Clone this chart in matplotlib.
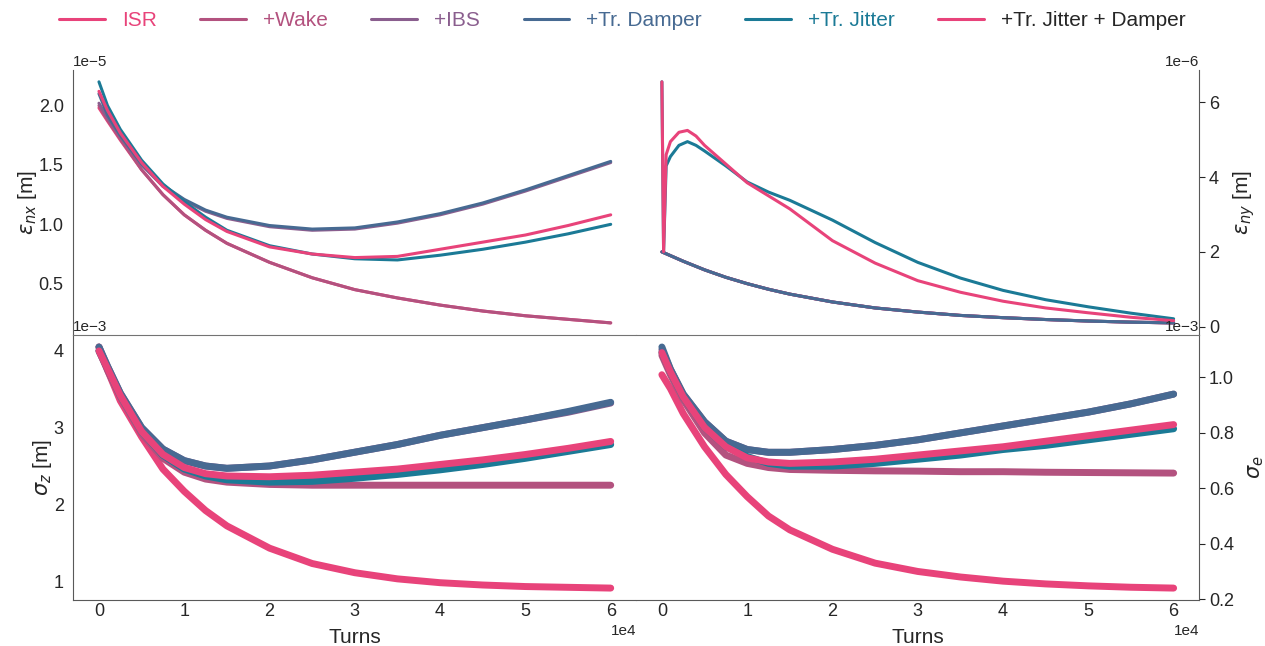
import matplotlib
matplotlib.use("Agg")
import matplotlib.pyplot as plt
import seaborn as sns
import numpy as np

sns.set_style("white")
plt.rcParams['font.family'] = ['Liberation Sans', 'DejaVu Sans']
plt.rcParams['axes.edgecolor'] = '0.35'

labels = ["ISR", "+Wake", "+IBS", "+Tr. Damper", "+Tr. Jitter", "+Tr. Jitter + Damper"]
colors = ["#e8437a", "#b3527f", "#8a5e8e", "#476a92", "#1b7a96", "#e8437a"]
label_colors = colors[:5] + ["0.15"]

# turn grid used by most series
turns = [0, 1000, 2500, 5000, 7500, 10000, 12500, 15000, 20000, 25000,
         30000, 35000, 40000, 45000, 50000, 55000, 60000]
# finer start for the jitter runs in y (big kick at injection)
turns_jit = [0, 200, 500, 1000, 2000, 3000, 4000, 5000, 7500, 10000, 12500,
             15000, 20000, 25000, 30000, 35000, 40000, 45000, 50000, 55000, 60000]

# normalised horizontal emittance [1e-5 m]
emit_x = [
    [1.98, 1.87, 1.71, 1.46, 1.25, 1.08, 0.95, 0.84, 0.68, 0.55, 0.45, 0.38, 0.32, 0.27, 0.23, 0.20, 0.17],
    [2.00, 1.88, 1.72, 1.46, 1.25, 1.08, 0.95, 0.84, 0.68, 0.55, 0.45, 0.38, 0.32, 0.27, 0.23, 0.20, 0.17],
    [2.02, 1.90, 1.74, 1.50, 1.32, 1.20, 1.11, 1.05, 0.98, 0.95, 0.96, 1.01, 1.08, 1.17, 1.28, 1.40, 1.52],
    [2.10, 1.92, 1.75, 1.51, 1.33, 1.21, 1.12, 1.06, 0.99, 0.96, 0.97, 1.02, 1.09, 1.18, 1.29, 1.41, 1.53],
    [2.20, 2.00, 1.80, 1.54, 1.34, 1.19, 1.06, 0.95, 0.82, 0.75, 0.71, 0.70, 0.74, 0.79, 0.85, 0.92, 1.00],
    [2.12, 1.96, 1.77, 1.52, 1.32, 1.17, 1.04, 0.94, 0.81, 0.75, 0.72, 0.73, 0.79, 0.85, 0.91, 0.99, 1.08],
]

# normalised vertical emittance [1e-6 m]
emit_y = [
    [2.00, 1.90, 1.75, 1.52, 1.32, 1.15, 1.00, 0.87, 0.66, 0.50, 0.39, 0.30, 0.24, 0.19, 0.15, 0.12, 0.10],
    [2.00, 1.90, 1.75, 1.52, 1.32, 1.15, 1.00, 0.87, 0.66, 0.50, 0.39, 0.30, 0.24, 0.19, 0.15, 0.12, 0.10],
    [2.00, 1.90, 1.75, 1.52, 1.32, 1.15, 1.00, 0.87, 0.66, 0.50, 0.39, 0.30, 0.24, 0.19, 0.15, 0.12, 0.10],
    [2.00, 1.90, 1.75, 1.52, 1.32, 1.15, 1.00, 0.87, 0.66, 0.50, 0.39, 0.30, 0.24, 0.19, 0.15, 0.12, 0.10],
]
emit_y_jit = [
    [6.55, 2.00, 4.30, 4.55, 4.85, 4.95, 4.85, 4.70, 4.30, 3.87, 3.60, 3.38, 2.85, 2.25, 1.72, 1.30, 0.97, 0.72, 0.53, 0.36, 0.21],
    [6.55, 2.00, 4.60, 4.95, 5.20, 5.25, 5.10, 4.85, 4.35, 3.85, 3.50, 3.15, 2.30, 1.70, 1.23, 0.92, 0.68, 0.50, 0.37, 0.25, 0.16],
]

# bunch length [1e-3 m]
sigma_z = [
    [4.05, 3.75, 3.35, 2.88, 2.46, 2.17, 1.92, 1.72, 1.43, 1.23, 1.11, 1.03, 0.98, 0.95, 0.93, 0.92, 0.91],
    [4.00, 3.75, 3.40, 2.92, 2.60, 2.42, 2.33, 2.29, 2.26, 2.25, 2.25, 2.25, 2.25, 2.25, 2.25, 2.25, 2.25],
    [4.05, 3.80, 3.45, 3.00, 2.72, 2.57, 2.50, 2.47, 2.50, 2.58, 2.68, 2.78, 2.90, 3.00, 3.10, 3.20, 3.32],
    [4.05, 3.80, 3.45, 3.00, 2.72, 2.57, 2.50, 2.47, 2.50, 2.58, 2.68, 2.78, 2.90, 3.00, 3.10, 3.21, 3.33],
    [4.00, 3.77, 3.42, 2.95, 2.64, 2.46, 2.37, 2.32, 2.29, 2.30, 2.34, 2.39, 2.45, 2.52, 2.60, 2.69, 2.78],
    [4.00, 3.77, 3.42, 2.95, 2.65, 2.48, 2.40, 2.37, 2.36, 2.38, 2.42, 2.46, 2.52, 2.58, 2.65, 2.73, 2.82],
]

# energy spread [1e-3]
sigma_e = [
    [1.01, 0.96, 0.87, 0.75, 0.65, 0.57, 0.50, 0.45, 0.38, 0.33, 0.30, 0.28, 0.265, 0.255, 0.248, 0.243, 0.24],
    [1.08, 1.01, 0.92, 0.80, 0.72, 0.69, 0.675, 0.668, 0.665, 0.663, 0.662, 0.660, 0.660, 0.658, 0.657, 0.656, 0.655],
    [1.10, 1.03, 0.94, 0.84, 0.77, 0.74, 0.73, 0.73, 0.74, 0.755, 0.775, 0.80, 0.825, 0.85, 0.875, 0.905, 0.94],
    [1.11, 1.03, 0.94, 0.84, 0.77, 0.74, 0.73, 0.73, 0.74, 0.755, 0.775, 0.80, 0.825, 0.85, 0.875, 0.905, 0.94],
    [1.09, 1.02, 0.93, 0.82, 0.75, 0.715, 0.69, 0.68, 0.68, 0.69, 0.705, 0.72, 0.74, 0.755, 0.775, 0.795, 0.815],
    [1.09, 1.02, 0.93, 0.82, 0.75, 0.71, 0.695, 0.69, 0.695, 0.705, 0.72, 0.735, 0.75, 0.77, 0.79, 0.81, 0.83],
]


def main():

    fig, axes = plt.subplots(2, 2, sharex=True, figsize=(12.65, 6.46), dpi=100)
    fig.subplots_adjust(left=0.058, right=0.948, top=0.892, bottom=0.071,
                        wspace=0, hspace=0)

    ax_ex, ax_ey = axes[0]
    ax_sz, ax_se = axes[1]

    t = np.array(turns)
    lines = []
    for i in range(6):
        l, = ax_ex.plot(t, np.array(emit_x[i]) * 1e-5, color=colors[i], lw=2.2)
        lines.append(l)
        ax_sz.plot(t, np.array(sigma_z[i]) * 1e-3, color=colors[i], lw=5)
        ax_se.plot(t, np.array(sigma_e[i]) * 1e-3, color=colors[i], lw=5)

    for i in range(4):
        ax_ey.plot(t, np.array(emit_y[i]) * 1e-6, color=colors[i], lw=2.2)
    for i in range(2):
        ax_ey.plot(turns_jit, np.array(emit_y_jit[i]) * 1e-6, color=colors[4 + i], lw=2.2)

    ax_ex.set_ylabel(r'$\epsilon_{nx}$ [m]', fontsize=15, labelpad=0)
    ax_sz.set_ylabel(r'$\sigma_z$ [m]', fontsize=15, labelpad=0)
    ax_ey.set_ylabel(r'$\epsilon_{ny}$ [m]', fontsize=15, labelpad=9)
    ax_se.set_ylabel(r'$\sigma_e$', fontsize=15, labelpad=9)

    for ax in (ax_sz, ax_se):
        ax.set_xlabel('Turns', fontsize=15, labelpad=6)

    for ax in (ax_ey, ax_se):
        ax.yaxis.tick_right()
        ax.yaxis.set_label_position('right')
        ax.spines['left'].set_visible(False)
        ax.spines['right'].set_visible(True)
    for ax in (ax_ex, ax_sz):
        ax.spines['right'].set_visible(False)
    for ax in axes.flat:
        ax.ticklabel_format(style='sci', axis='both', scilimits=(0, 0))
        ax.tick_params(axis='y', labelsize=13, length=4, pad=3, colors='0.15')
        ax.tick_params(axis='x', labelsize=13, length=0, pad=2, colors='0.15')
        ax.yaxis.get_offset_text().set_fontsize(11)
        ax.xaxis.get_offset_text().set_fontsize(11)
    # the two rows are split by a single line
    for ax in (ax_ex, ax_ey):
        ax.spines['top'].set_visible(False)
        ax.spines['bottom'].set_visible(False)
    for ax in (ax_sz, ax_se):
        ax.spines['top'].set_visible(True)
        ax.spines['top'].set_color('0.45')

    ax_ey.set_yticks([0, 2e-6, 4e-6, 6e-6])
    ax_se.set_yticks([0.2e-3, 0.4e-3, 0.6e-3, 0.8e-3, 1.0e-3])
    ax_sz.set_yticks([1e-3, 2e-3, 3e-3, 4e-3])
    ax_ex.set_yticks([0.5e-5, 1.0e-5, 1.5e-5, 2.0e-5])
    ax_sz.set_xticks(np.arange(0, 70000, 10000))

    leg = fig.legend(lines, labels, loc='upper center', ncol=6, frameon=False,
                     fontsize=15, bbox_to_anchor=(0.492, 1.012),
                     handlelength=2.2, handletextpad=0.8, columnspacing=2.1)
    for text, c in zip(leg.get_texts(), label_colors):
        text.set_color(c)

    plt.savefig("out.png", dpi=100)


if __name__ == "__main__":

    main()
